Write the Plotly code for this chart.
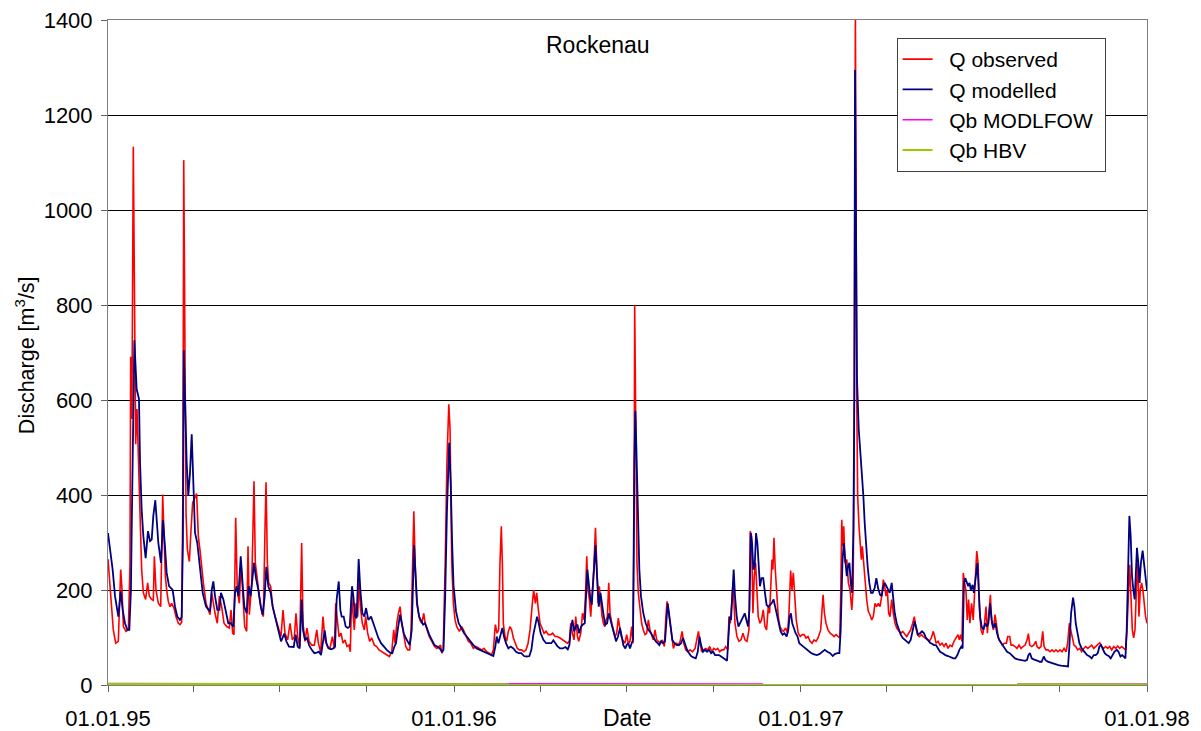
import pandas as pd
import plotly.graph_objects as go

START = pd.Timestamp("1995-01-01")

# Observed discharge at Rockenau: day offset from 01.01.1995 and value [m3/s]
obs_day = [
    0, 2.5, 5.6, 8.1, 10.9, 13.4, 14.8, 16.2, 19.0, 21.5, 23.2, 23.9, 25.2, 26.7, 29.2, 30.6,
    32.3, 33.8, 35.5, 37.3, 39.7, 41.8, 43.6, 46.1, 47.8, 48.9, 50.6, 53.1, 55.6, 57.7, 59.1,
    60.5, 61.9, 63.6, 65.4, 67.2, 69.6, 71.7, 74.2, 76.0, 77.7, 79.0, 79.9, 81.2, 82.3, 83.7,
    85.8, 87.6, 89.3, 93.5, 95.3, 97.0, 98.8, 100.6, 103.4, 105.8, 107.6, 109.4, 111.1, 112.9,
    115.3, 117.5, 119.9, 122.4, 125.2, 128.0, 129.8, 131.5, 132.9, 134.7, 136.4, 138.5, 140.3,
    142.1, 144.2, 146.3, 147.7, 149.1, 151.6, 152.6, 154.0, 155.4, 157.5, 159.6, 162.5, 163.9,
    165.6, 166.7, 168.1, 169.5, 171.6, 173.7, 176.2, 178.6, 181.4,
    182.5, 184.6, 186.7, 189.5, 192.0, 194.5, 196.6, 198.3, 200.1, 202.2, 204.3, 205.7, 207.8,
    209.9, 212.1, 214.9, 217.7, 220.2, 221.9, 224.3, 226.8, 228.9, 231.7, 234.2, 236.6, 238.8,
    240.2, 241.6, 243.7, 245.8, 247.9, 250.0, 252.1, 254.2, 255.6, 257.0, 258.4, 259.8, 261.6,
    263.4, 264.8, 266.2, 268.3, 270.4, 271.8, 273.9, 276.0, 278.2, 281.0, 283.4, 285.9, 288.7,
    291.5, 294.0, 296.8, 299.3, 301.4, 302.8, 304.6, 306.4, 308.1, 309.9, 312.0, 314.1, 316.2,
    318.3, 319.7, 321.5, 322.6, 324.0, 325.7, 327.5, 328.9, 331.0, 333.1, 334.5, 336.6, 338.8,
    341.6, 344.4, 346.9, 349.3, 350.8, 352.2, 353.6, 355.7, 357.5, 359.5, 360.8, 362.6, 364.3,
    366.1,
    367.9, 370.7, 373.1, 375.6, 377.7, 380.1, 382.6, 385.4, 388.2, 391.0, 394.2, 396.6, 399.5,
    402.3, 404.4, 406.5, 408.6, 410.4, 412.1, 413.5, 414.9, 416.0, 417.0, 418.8, 420.5, 422.3,
    424.1, 425.8, 427.6, 429.7, 431.8, 433.9, 436.4, 438.8, 441.0, 443.1, 445.2, 447.3, 449.0,
    450.8, 452.2, 454.0, 455.7, 457.8, 460.0, 462.1, 464.5, 467.0, 469.1, 471.6, 474.0, 476.8,
    479.7, 482.1, 484.6, 486.7, 488.1, 489.9, 491.6, 493.4, 495.2, 496.6, 498.7, 500.5, 502.2,
    503.6, 505.0, 506.4, 507.8, 509.2, 510.6, 512.4, 514.2, 515.6, 517.0, 518.3, 519.8, 521.2,
    522.6, 524.0, 525.4, 526.8, 528.2, 529.6, 531.4, 533.0, 534.8, 536.6, 538.3, 539.7, 541.5,
    543.6, 545.4,
    547.1, 548.9, 550.6, 552.4, 553.8, 554.9, 555.6, 557.0, 558.0, 559.4, 561.2, 562.9, 564.7,
    566.5, 568.2, 570.0, 571.7, 573.5, 575.3, 577.0, 578.8, 580.6, 582.7, 584.8, 586.9, 588.3,
    589.7, 591.1, 592.9, 594.6, 596.4, 598.2, 599.9, 601.7, 603.5, 605.6, 607.3, 609.4, 611.5,
    614.0, 616.5, 619.3, 621.4, 622.8, 624.6, 626.3, 628.4, 630.5, 632.6, 634.7, 636.9, 639.0,
    641.1, 643.2, 645.3, 647.4, 649.5, 651.6, 653.7, 655.1, 656.5, 659.3, 661.4, 663.5, 665.6,
    667.7, 669.8, 671.9, 674.0, 676.1, 677.5, 678.9, 680.3, 681.7, 683.1, 684.5, 685.9, 687.7,
    689.4, 691.2, 693.0, 694.7, 696.5, 697.9, 699.3, 700.4, 701.4, 702.5, 703.9, 705.3, 707.0,
    708.8, 710.6, 712.7, 714.8, 716.9, 718.3, 720.1, 721.5, 722.9, 724.3, 726.0, 728.1, 730.2,
    732.3,
    734.2, 736.3, 738.4, 740.6, 742.7, 744.8, 746.9, 749.0, 750.4, 751.8, 753.2, 754.3, 755.7,
    757.4, 759.5, 761.7, 763.8, 765.9, 768.0, 770.1, 771.9, 772.9, 774.0, 775.0, 776.1, 777.5,
    779.3, 781.0, 782.8, 784.6, 786.0, 787.0, 788.4, 789.8, 790.8, 792.2, 793.6, 794.7, 795.7,
    797.1, 798.5, 800.3, 802.0, 803.8, 805.6, 807.3, 809.1, 810.8, 812.6, 814.4, 816.1, 817.9,
    819.3, 820.7, 822.1, 823.5, 824.9, 826.7, 828.4, 830.2, 832.0, 834.1, 836.2, 838.3, 840.4,
    842.5, 844.6, 846.7, 848.8, 850.6, 852.0, 853.8, 855.9, 858.0, 860.1, 862.2, 864.3, 866.4,
    868.5, 870.6, 872.0, 873.4, 875.6, 877.7, 879.8, 881.9, 884.0, 886.1, 888.2, 890.3, 892.4,
    894.5, 896.6, 898.0, 899.4, 900.8, 902.2, 903.6, 905.0, 906.4, 907.8, 909.2, 911.0, 912.7,
    914.6,
    916.4, 917.8, 919.2, 920.9, 922.7, 924.5, 926.2, 927.6, 929.4, 930.8, 932.2, 934.0, 935.7,
    937.1, 939.2, 941.3, 943.4, 945.5, 947.7, 949.1, 951.2, 952.6, 954.7, 956.8, 958.9, 961.0,
    963.1, 965.2, 967.4, 969.5, 970.9, 972.3, 974.4, 976.5, 978.6, 980.0, 982.1, 984.2, 986.0,
    987.4, 989.5, 991.6, 993.7, 995.8, 997.9, 1000.0, 1002.1, 1004.3, 1006.4, 1008.5, 1010.6,
    1012.3, 1014.1, 1015.5, 1017.3, 1019.0, 1020.8, 1022.9, 1025.0, 1027.1, 1029.2, 1031.3,
    1033.5, 1035.6, 1037.7, 1039.8, 1041.9, 1044.0, 1046.1, 1048.2, 1050.3, 1052.4, 1054.5,
    1056.7, 1058.8, 1060.9, 1063.0, 1065.1, 1067.2, 1069.3, 1071.4, 1073.5, 1074.9, 1076.3,
    1077.7, 1079.1, 1080.5, 1081.9, 1083.3, 1085.1, 1086.5, 1087.5, 1088.9, 1090.3, 1091.7,
    1093.1, 1094.5, 1096.0,
]
obs_q = [
    265, 190, 116, 88, 92, 243, 200, 123, 113, 116, 257, 691, 560, 1133, 507, 581,
    454, 327, 243, 194, 180, 215, 187, 180, 178, 271, 200, 172, 165, 401, 313,
    229, 200, 176, 165, 172, 162, 144, 130, 127, 132, 400, 1105, 539, 363, 285,
    260, 327, 384, 403, 313, 285, 243, 215, 172, 158, 148, 194, 172, 151,
    130, 187, 165, 130, 123, 120, 158, 109, 106, 352, 200, 172, 257,
    187, 123, 113, 292, 148, 215, 299, 429, 257, 215, 187, 151, 144,
    327, 427, 257, 215, 208, 165, 144, 130, 109,
    102, 158, 109, 95, 130, 95, 102, 151, 102, 81, 299, 130, 92,
    120, 92, 84, 84, 116, 88, 70, 144, 95, 81, 77, 102, 77,
    172, 137, 102, 109, 88, 95, 81, 84, 70, 187, 144, 116, 172,
    144, 222, 165, 130, 116, 144, 109, 92, 99, 84, 81, 74, 70,
    67, 63, 60, 70, 116, 88, 130, 151, 165, 130, 102, 81, 74,
    74, 116, 257, 366, 257, 172, 151, 137, 130, 151, 130, 116, 102,
    92, 81, 77, 81, 84, 67, 74, 257, 468, 591, 540, 257, 172,
    137,
    123, 113, 123, 113, 102, 92, 88, 77, 81, 77, 74, 77, 70,
    67, 63, 74, 127, 109, 116, 257, 334, 257, 130, 102, 92, 113,
    123, 116, 99, 88, 77, 74, 74, 70, 74, 88, 116, 165, 200,
    172, 194, 158, 130, 120, 109, 113, 106, 106, 109, 102, 102, 99,
    95, 92, 88, 92, 130, 109, 95, 144, 102, 92, 109, 151, 137,
    187, 271, 200, 180, 144, 187, 243, 331, 257, 172, 208, 165, 144,
    130, 123, 137, 144, 215, 151, 130, 113, 102, 109, 141, 123, 102,
    92, 88,
    106, 88, 92, 123, 88, 327, 800, 412, 257, 194, 158, 130, 116,
    106, 109, 137, 116, 106, 95, 116, 95, 92, 88, 95, 81, 137,
    176, 158, 130, 95, 77, 88, 88, 84, 92, 113, 88, 74, 70,
    74, 70, 77, 95, 113, 88, 70, 74, 77, 74, 81, 70, 77,
    74, 77, 70, 74, 74, 81, 74, 144, 130, 215, 130, 102, 92,
    95, 109, 95, 92, 116, 324, 313, 151, 229, 257, 200, 144, 130,
    137, 158, 123, 116, 165, 151, 229, 264, 243, 310, 243, 187, 144,
    123, 116, 113, 120, 109, 151, 241, 200, 236, 187, 137, 109, 102,
    106,
    106, 99, 102, 92, 88, 95, 92, 99, 109, 116, 158, 190, 151,
    130, 116, 109, 106, 102, 106, 102, 99, 187, 348, 292, 334, 257,
    264, 215, 200, 158, 200, 468, 1420, 609, 398, 334, 299, 264, 292,
    257, 215, 180, 155, 148, 137, 144, 172, 165, 172, 165, 187, 222,
    208, 187, 200, 151, 144, 180, 151, 130, 120, 113, 109, 113, 106,
    102, 109, 116, 130, 144, 123, 106, 102, 106, 102, 99, 95, 92,
    99, 113, 102, 88, 92, 84, 88, 81, 88, 77, 84, 81, 92,
    99, 106, 95, 106, 92, 236, 215, 200, 137, 180, 130, 172, 137,
    200,
    282, 257, 165, 116, 106, 127, 165, 109, 158, 190, 130, 116, 148,
    130, 99, 92, 84, 88, 88, 102, 102, 84, 84, 81, 77, 84,
    77, 81, 84, 95, 108, 84, 81, 84, 92, 81, 77, 81, 113,
    81, 74, 74, 70, 74, 70, 74, 70, 74, 70, 77, 70,
    88, 130, 116, 95, 84, 81, 74, 77, 70, 77, 81,
    77, 81, 84, 77, 81, 84, 89, 81, 77, 81, 77,
    81, 74, 81, 77, 82, 77, 81, 77, 74, 116, 200,
    253, 187, 116, 99, 116, 215, 257, 144, 200, 215, 200,
    172, 144, 130,
]

# Modelled discharge (HBV): day offset from 01.01.1995 and value [m3/s]
mod_day = [
    0, 2.5, 4.9, 7.4, 10.9, 13.4, 15.5, 17.9, 20.4, 22.5, 24.2, 25.0, 26.5, 27.8, 30.2, 32.7,
    33.8, 35.5, 37.3, 39.7, 42.2, 44.3, 46.1, 47.8, 49.9, 51.3, 53.1, 55.9, 58.0, 60.1, 61.9,
    64.4, 66.5, 68.2, 70.7, 73.1, 75.9, 77.7, 79.0, 79.9, 81.2, 83.0, 84.7, 86.5, 88.3, 90.0,
    91.8, 94.2, 97.0, 99.9, 103.4, 105.8, 107.6, 109.4, 111.1, 112.9, 115.3, 117.5, 119.2,
    121.7, 124.5, 126.9, 129.4, 132.2, 134.0, 135.7, 137.5, 140.0, 141.7, 143.8, 146.3, 148.4,
    150.5, 152.6, 154.0, 156.1, 158.6, 161.1, 163.2, 165.3, 167.0, 169.1, 171.6, 173.7, 176.2,
    178.6, 181.4,
    182.5, 186.0, 188.1, 190.9, 193.7, 195.9, 198.0, 200.1, 202.2, 204.3, 205.7, 207.8, 209.9,
    212.1, 214.9, 217.7, 220.2, 222.6, 224.7, 226.8, 228.6, 230.4, 232.5, 235.2, 237.7, 239.5,
    241.2, 243.4, 245.1, 246.5, 248.6, 250.7, 252.9, 255.0, 257.4, 258.8, 260.6, 262.3, 264.4,
    266.2, 268.3, 270.4, 272.2, 274.6, 277.5, 279.9, 282.4, 285.2, 288.0, 290.8, 294.0, 297.5,
    299.9, 302.1, 303.8, 305.6, 308.1, 309.9, 312.0, 314.1, 316.2, 318.3, 320.4, 321.9, 322.9,
    324.3, 326.1, 328.2, 330.3, 332.4, 334.5, 336.6, 338.8, 341.6, 344.4, 347.2, 350.0, 352.2,
    353.9, 355.7, 357.5, 359.9, 361.6, 363.0, 364.5, 367.1,
    369.9, 372.8, 375.6, 378.4, 381.9, 385.4, 388.9, 392.4, 396.0, 399.5, 403.0, 406.5, 408.6,
    410.0, 411.8, 413.5, 416.0, 417.7, 419.8, 422.3, 424.8, 427.6, 430.4, 433.2, 436.0, 438.8,
    441.7, 444.5, 446.6, 448.7, 450.8, 452.6, 454.4, 456.4, 459.3, 462.1, 464.9, 467.7, 469.8,
    471.9, 474.0, 476.8, 479.7, 482.5, 485.0, 486.7, 488.1, 489.9, 491.6, 493.4, 495.2, 496.9,
    499.0, 500.8, 502.9, 504.3, 505.7, 507.1, 508.9, 510.3, 512.1, 514.2, 515.9, 517.7, 519.5,
    521.2, 523.0, 524.7, 526.5, 528.2, 530.0, 531.7, 533.8, 535.9, 538.0, 540.1, 541.9, 543.6,
    545.7,
    547.1, 548.9, 550.6, 552.4, 553.8, 555.2, 556.3, 557.3, 558.7, 560.5, 562.2, 564.7, 567.2,
    570.0, 572.8, 575.6, 577.7, 579.8, 581.6, 583.4, 585.5, 587.6, 589.0, 590.4, 591.8, 593.6,
    595.3, 597.5, 599.9, 602.4, 604.5, 606.6, 608.7, 610.8, 613.0, 615.1, 617.5, 620.0, 622.1,
    623.9, 625.6, 627.7, 629.8, 631.9, 634.0, 636.2, 638.3, 640.4, 642.5, 644.6, 646.7, 648.8,
    650.9, 653.0, 654.4, 655.8, 657.2, 658.6, 660.0, 661.4, 663.2, 665.0, 666.7, 668.5, 670.3,
    671.7, 673.4, 675.2, 676.6, 678.0, 679.4, 680.8, 682.2, 683.6, 685.0, 686.4, 687.7, 689.4,
    691.2, 693.0, 694.7, 696.5, 698.3, 700.0, 702.1, 703.9, 705.6, 707.4, 709.5, 711.6, 713.7,
    715.9, 717.6, 719.0, 720.4, 721.8, 723.6, 725.3, 727.4, 729.2, 731.6,
    735.6, 738.4, 741.3, 744.1, 747.6, 750.4, 753.2, 756.0, 758.8, 761.7, 764.5, 766.6, 769.4,
    771.5, 772.9, 774.7, 776.1, 777.5, 779.3, 780.7, 782.1, 783.5, 784.9, 786.3, 787.3, 788.0,
    790.1, 791.9, 794.0, 795.4, 796.8, 798.2, 799.6, 801.3, 803.1, 804.9, 806.6, 808.7, 810.5,
    812.3, 814.4, 816.1, 817.9, 819.3, 821.1, 822.8, 824.6, 826.7, 828.1, 829.9, 832.0, 834.1,
    836.2, 838.3, 840.4, 842.5, 844.6, 846.7, 848.8, 850.9, 852.7, 854.4, 856.6, 858.7, 860.8,
    862.9, 865.0, 867.1, 869.2, 871.3, 873.4, 875.6, 877.7, 880.5, 883.3, 886.1, 888.9, 891.7,
    893.8, 896.0, 898.1, 900.2, 901.5, 902.9, 904.3, 905.7, 907.4, 908.8, 910.2, 912.0, 913.4,
    914.6, 916.0, 917.1, 918.5, 919.9, 921.6, 923.4, 925.2, 926.9, 928.7, 930.4, 932.2, 934.0,
    936.1, 937.8, 940.0, 942.1, 944.2, 946.3, 948.4, 951.2, 954.0, 956.8, 959.6, 962.5, 965.2,
    967.4, 969.5, 970.9, 972.6, 974.4, 976.5, 978.6, 980.7, 982.8, 984.9, 987.1, 988.8, 991.3,
    994.1, 996.9, 999.7, 1002.5, 1005.3, 1008.1, 1010.9, 1012.7, 1014.1, 1015.9, 1018.0,
    1019.4, 1020.8, 1022.6, 1024.7, 1027.1, 1029.9, 1032.8, 1035.6, 1037.7, 1039.8, 1041.9,
    1044.0, 1045.8, 1047.5, 1049.3, 1051.4, 1053.5, 1055.6, 1057.7, 1059.9, 1061.6, 1064.1,
    1065.9, 1068.0, 1069.7, 1071.4, 1073.2, 1074.6, 1076.0, 1077.4, 1078.8, 1080.2, 1081.6,
    1083.0, 1084.4, 1085.4, 1086.8, 1088.2, 1089.6, 1091.4, 1092.8, 1094.2, 1096.0,
]
mod_q = [
    320, 280, 243, 187, 144, 197, 158, 130, 116, 116, 200, 327, 600, 726, 623, 602,
    468, 370, 313, 267, 324, 303, 306, 356, 389, 356, 299, 257, 347, 292, 236,
    208, 204, 200, 165, 144, 137, 143, 300, 705, 609, 468, 398, 447, 528, 426,
    320, 299, 243, 194, 165, 158, 155, 200, 218, 187, 158, 158, 194,
    180, 151, 130, 130, 123, 194, 208, 187, 271, 222, 165, 151, 208,
    187, 222, 257, 225, 200, 165, 148, 187, 249, 208, 194, 165, 145,
    125, 105,
    92, 108, 92, 81, 81, 80, 106, 81, 77, 180, 116, 95, 99,
    84, 74, 67, 68, 70, 63, 92, 115, 88, 77, 75, 77, 81,
    180, 218, 158, 144, 144, 123, 120, 123, 208, 187, 144, 141, 265,
    200, 151, 144, 162, 137, 144, 130, 113, 99, 88, 81, 74, 68,
    67, 81, 88, 116, 148, 130, 109, 99, 92, 84, 116, 222, 294,
    236, 172, 144, 134, 127, 130, 116, 106, 95, 84, 81, 77, 70,
    74, 187, 363, 510, 420, 300, 210, 155,
    130, 120, 109, 102, 92, 84, 77, 74, 70, 67, 65, 61, 81,
    102, 88, 102, 120, 102, 88, 77, 81, 77, 70, 67, 67, 61,
    60, 61, 74, 106, 130, 144, 130, 109, 95, 88, 88, 88, 94,
    88, 82, 77, 77, 80, 75, 84, 116, 137, 113, 123, 127, 109,
    123, 127, 130, 187, 243, 215, 180, 169, 229, 294, 229, 165, 194,
    165, 144, 127, 130, 151, 137, 120, 106, 92, 102, 120, 102, 84,
    77,
    84, 88, 77, 88, 95, 468, 577, 503, 356, 243, 187, 151, 130,
    116, 109, 99, 92, 88, 84, 92, 88, 92, 137, 172, 151, 116,
    95, 88, 84, 84, 88, 99, 84, 74, 67, 61, 58, 56, 70,
    102, 84, 70, 74, 70, 74, 67, 70, 63, 63, 63, 60, 56,
    54, 51, 116, 144, 137, 187, 243, 187, 144, 123, 130, 137, 148,
    151, 137, 123, 158, 320, 299, 243, 250, 320, 299, 243, 208, 225,
    225, 194, 169, 165, 169, 172, 180, 165, 144, 130, 113, 106, 109,
    102, 116, 144, 151, 130, 116, 109, 102, 88, 84,
    77, 72, 68, 65, 63, 65, 70, 74, 70, 67, 61, 65, 67,
    67, 116, 257, 299, 264, 229, 250, 257, 215, 194, 327, 609, 1295,
    644, 539, 475, 454, 398, 341, 292, 250, 215, 194, 194, 204, 225,
    204, 190, 187, 208, 215, 208, 200, 194, 215, 187, 151, 130, 116,
    106, 99, 95, 92, 88, 95, 113, 134, 120, 106, 109, 113, 109,
    99, 95, 89, 87, 84, 84, 77, 70, 67, 63, 61, 58, 56,
    56, 63, 74, 81, 77, 215, 225, 215, 208, 215, 200, 211, 194,
    215, 243, 257, 200, 144, 123, 116, 130, 123, 130, 172, 137, 120,
    130, 109, 95, 88, 84, 74, 70, 67, 61, 56, 54, 53, 53,
    51, 53, 63, 67, 56, 54, 53, 51, 49, 49, 60, 53, 49,
    47, 46, 44, 42, 41, 40, 39, 39, 81, 151, 184,
    165, 130, 106, 88, 77, 70, 63, 60, 56, 63, 63,
    67, 81, 84, 74, 67, 63, 61, 56, 63, 70, 74,
    70, 60, 63, 60, 56, 116, 257, 356, 313, 229, 200,
    180, 243, 289, 257, 215, 257, 283, 257, 229, 200,
]

# Baseflow components, sampled at the start of each month
base_months = pd.date_range("1995-01-01", "1998-01-01", freq="MS")
qb_modflow = [
    3, 3, 3, 3, 3, 2, 2, 2, 2, 2, 2, 2, 2,
    3, 3, 3, 2, 2, 2, 2, 2, 2, 2, 2, 2,
    3, 3, 3, 3, 2, 2, 2, 2, 2, 2, 2, 2,
]
qb_hbv = [
    2, 2, 2, 2, 2, 1, 1, 1, 1, 1, 1, 1, 1,
    2, 2, 2, 1, 1, 1, 1, 1, 1, 1, 1, 1,
    2, 2, 2, 2, 1, 1, 1, 1, 1, 1, 1, 1,
]

# Axis ticks: year labels, with an unlabelled tick at every quarter
year_ticks = pd.date_range("1995-01-01", "1998-01-01", freq="YS")
year_text = [d.strftime("%d.%m.%y") for d in year_ticks]
quarter_ticks = pd.date_range("1995-01-01", "1998-01-01", freq="QS")
y_ticks = [0, 200, 400, 600, 800, 1000, 1200, 1400]


def to_dates(days):
    return START + pd.to_timedelta(days, unit="D")


FONT = "Liberation Sans, Arial, sans-serif"
PAD = "\u00a0\u00a0"  # gap between legend line sample and label

fig = go.Figure()
series = [
    ("Q observed", to_dates(obs_day), obs_q, "#ff0000", 1.6),
    ("Q modelled", to_dates(mod_day), mod_q, "#000080", 1.8),
    ("Qb MODLFOW", base_months, qb_modflow, "#ff00ff", 1.5),
    ("Qb HBV", base_months, qb_hbv, "#99cc00", 2.2),
]
for name, x, y, color, width in series:
    fig.add_trace(go.Scatter(
        x=x, y=y, name=PAD + name + "\u00a0", mode="lines", legendgroup=name,
        line=dict(color=color, width=width),
    ))

fig.update_layout(
    width=1201, height=731,
    margin=dict(l=108, r=54, t=20, b=46, autoexpand=False),
    paper_bgcolor="white", plot_bgcolor="white",
    font=dict(family=FONT, size=22, color="black"),
    showlegend=True,
    legend=dict(
        x=0.759, y=0.973, xanchor="left", yanchor="top",
        bgcolor="white", bordercolor="#404040", borderwidth=1,
        font=dict(size=21), itemwidth=30, tracegroupgap=0,
    ),
    xaxis=dict(
        type="date", automargin=False,
        range=[START, pd.Timestamp("1998-01-01")],
        tickvals=year_ticks, ticktext=year_text,
        ticks="outside", ticklen=6, tickcolor="#606060",
        minor=dict(tickvals=quarter_ticks, ticks="outside", ticklen=6,
                   tickcolor="#606060", showgrid=False),
        showgrid=False, showline=True, mirror=True,
        linecolor="#808080", linewidth=1,
        ticklabelstandoff=8, zeroline=False,
    ),
    yaxis=dict(
        range=[0, 1400], tickvals=y_ticks, automargin=False,
        ticks="outside", ticklen=6, tickcolor="#606060",
        showgrid=True, gridcolor="black", gridwidth=1,
        showline=True, mirror=True, linecolor="#808080", linewidth=1,
        zeroline=False, ticklabelstandoff=4,
    ),
    annotations=[
        dict(text="Rockenau", x=0.472, y=0.962, xref="paper", yref="paper",
             xanchor="center", yanchor="middle", showarrow=False,
             font=dict(size=23)),
        dict(text="Date", x=0.5, y=-0.0496, xref="paper", yref="paper",
             xanchor="center", yanchor="middle", showarrow=False,
             font=dict(size=23)),
        dict(text="Discharge [m<sup>3</sup>/s]", x=-0.0799, y=0.496,
             xref="paper", yref="paper", xanchor="center", yanchor="middle",
             textangle=-90, showarrow=False, font=dict(size=21.5)),
    ],
)

fig.write_html("out.html")
